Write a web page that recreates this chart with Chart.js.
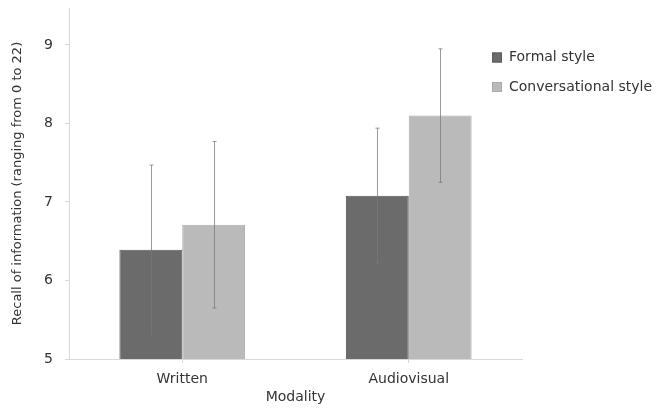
<!DOCTYPE html>
<html lang="en">
<head>
  <meta charset="UTF-8" />
  <title>Recall of information by modality</title>
  <script src="https://cdn.jsdelivr.net/npm/chart.js"></script>
  <style>
    html, body { margin: 0; padding: 0; background: #fff; }
    #wrap { width: 665px; height: 410px; }
  </style>
</head>
<body>
<div id="wrap"><canvas id="chartCanvas" width="665" height="410"></canvas></div>

<script>
  // Values
  const modalities = ['Written', 'Audiovisual'];
  const formalMeans = [6.39, 7.08];
  const formalErr = [1.08, 0.86];
  const conversationalMeans = [6.71, 8.10];
  const conversationalErr = [1.06, 0.85];
  const yTicks = [5, 6, 7, 8, 9];

  const FONT = '"DejaVu Sans", Arial, sans-serif';
  const TEXT = '#333';

  // error bars drawn on top of each bar
  const errorBars = {
    id: 'errorBars',
    afterDatasetsDraw(chart) {
      const ctx = chart.ctx;
      const y = chart.scales.y;
      ctx.save();
      ctx.strokeStyle = 'rgba(120,120,120,0.75)';
      ctx.lineWidth = 1;
      chart.data.datasets.forEach((ds, i) => {
        chart.getDatasetMeta(i).data.forEach((bar, j) => {
          const x = Math.round(bar.x) + 0.5;
          const top = y.getPixelForValue(ds.data[j] + ds.errors[j]);
          const bot = y.getPixelForValue(ds.data[j] - ds.errors[j]);
          ctx.beginPath();
          ctx.moveTo(x, top); ctx.lineTo(x, bot);
          ctx.moveTo(x - 2, top); ctx.lineTo(x + 2, top);
          ctx.moveTo(x - 2, bot); ctx.lineTo(x + 2, bot);
          ctx.stroke();
        });
      });
      ctx.restore();
    }
  };

  // legend placed to the right, like the original
  const sideLegend = {
    id: 'sideLegend',
    afterDraw(chart) {
      const ctx = chart.ctx;
      ctx.save();
      ctx.font = '14px ' + FONT;
      ctx.textBaseline = 'middle';
      chart.data.datasets.forEach((ds, i) => {
        const cy = 57.5 + i * 29.5;
        ctx.fillStyle = ds.backgroundColor;
        ctx.fillRect(492, cy - 5, 10, 10);
        ctx.strokeStyle = ds.borderColor;
        ctx.strokeRect(492.5, cy - 4.5, 9, 9);
        ctx.fillStyle = TEXT;
        ctx.fillText(ds.label, 509, cy);
      });
      ctx.restore();
    }
  };

  new Chart(document.getElementById('chartCanvas'), {
    type: 'bar',
    data: {
      labels: modalities,
      datasets: [
        {
          label: 'Formal style',
          data: formalMeans,
          errors: formalErr,
          backgroundColor: '#6b6b6b',
          borderColor: '#5a5a5a',
          borderWidth: 1
        },
        {
          label: 'Conversational style',
          data: conversationalMeans,
          errors: conversationalErr,
          backgroundColor: '#bababa',
          borderColor: '#aaaaaa',
          borderWidth: 1
        }
      ]
    },
    options: {
      responsive: false,
      animation: false,
      layout: { padding: { top: 8, right: 143, left: 8, bottom: 0 } },
      datasets: {
        bar: { barPercentage: 1, categoryPercentage: 0.555 }
      },
      plugins: {
        legend: { display: false },
        tooltip: { enabled: false }
      },
      scales: {
        x: {
          grid: { display: true, drawOnChartArea: false, offset: false, color: '#d9d9d9', tickLength: 4 },
          border: { color: '#d9d9d9' },
          ticks: { color: TEXT, font: { family: FONT, size: 14 }, padding: 8 },
          title: { display: true, text: 'Modality', color: TEXT, font: { family: FONT, size: 14 }, padding: { top: 0 } },
          afterFit(scale) { scale.height = 51; scale.paddingLeft = 0; scale.paddingRight = 0; }
        },
        y: {
          min: 5,
          max: 9.47,
          afterBuildTicks(scale) { scale.ticks = yTicks.map(v => ({ value: v })); },
          grid: { display: true, drawOnChartArea: false, color: '#d9d9d9', tickLength: 4 },
          border: { color: '#d9d9d9' },
          ticks: { color: TEXT, font: { family: FONT, size: 14 }, padding: 12 },
          title: { display: true, text: 'Recall of information (ranging from 0 to 22)', color: TEXT, font: { family: FONT, size: 13 }, padding: 2 },
          afterFit(scale) { scale.width = 61; scale.paddingTop = 0; scale.paddingBottom = 0; }
        }
      }
    },
    plugins: [errorBars, sideLegend]
  });
</script>
</body>
</html>
